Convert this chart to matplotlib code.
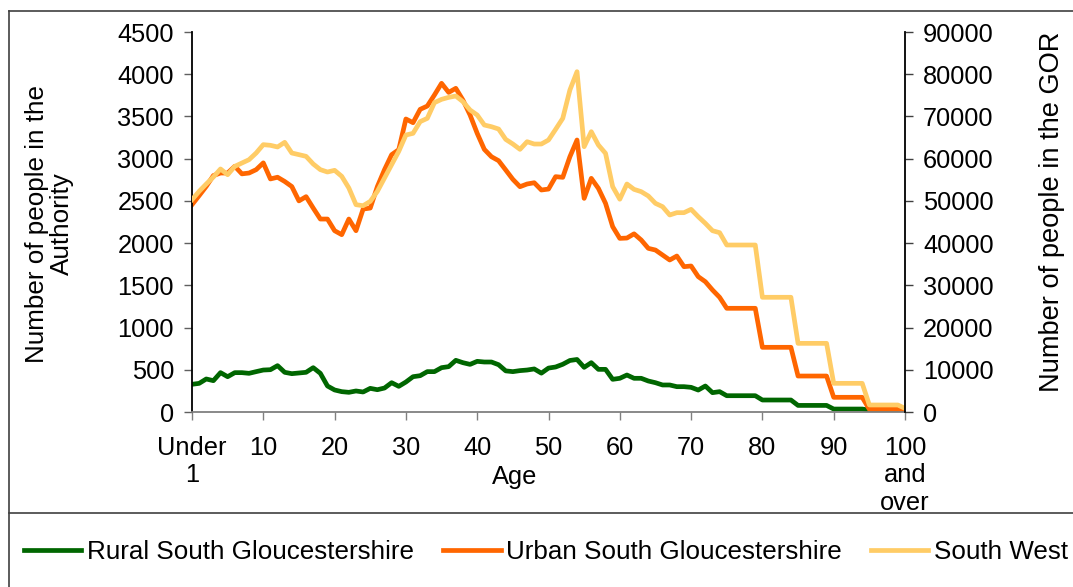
import matplotlib
matplotlib.use('Agg')
import matplotlib.pyplot as plt
from matplotlib.lines import Line2D

plt.rcParams['font.family'] = ['Liberation Sans', 'DejaVu Sans']

# single year of age, 0 = "Under 1", 100 = "100 and over"
ages = list(range(0, 101))

rural = [328, 339, 391, 371, 466, 418, 466, 466, 458, 478,
         497, 501, 549, 470, 454, 462, 470, 525, 458, 308,
         261, 241, 233, 249, 237, 280, 264, 284, 347, 304,
         355, 418, 430, 478, 478, 525, 537, 612, 584, 564,
         600, 592, 592, 560, 487, 478, 490, 497, 510, 460,
         520, 533, 565, 610, 622, 529, 584, 505, 505, 387,
         399, 438, 399, 399, 367, 347, 320, 320, 300, 300,
         292, 260, 308, 229, 241, 193, 193, 193, 193, 193,
         142, 142, 142, 142, 142, 78, 78, 78, 78, 78,
         35, 35, 35, 35, 35, 22, 22, 22, 22, 22,
         22]

urban = [2455, 2562, 2672, 2800, 2830, 2830, 2910, 2820, 2830, 2870,
         2950, 2760, 2780, 2730, 2670, 2500, 2550, 2415, 2285, 2285,
         2147, 2100, 2285, 2147, 2403, 2415, 2670, 2870, 3047, 3107,
         3470, 3426, 3584, 3623, 3754, 3892, 3785, 3833, 3694, 3517,
         3300, 3110, 3023, 2976, 2866, 2755, 2668, 2700, 2715, 2629,
         2640, 2787, 2779, 3023, 3221, 2530, 2767, 2648, 2471, 2195,
         2056, 2060, 2110, 2037, 1938, 1918, 1859, 1800, 1847, 1721,
         1729, 1603, 1543, 1445, 1358, 1228, 1228, 1228, 1228, 1228,
         766, 766, 766, 766, 766, 426, 426, 426, 426, 426,
         174, 174, 174, 174, 174, 32, 32, 32, 32, 32,
         24]

south_west = [50280, 52260, 54000, 55660, 57560, 56200, 58180, 58970, 59760, 61340,
              63320, 63160, 62770, 63870, 61340, 60950, 60550, 58740, 57400, 56840,
              57240, 55820, 53050, 49100, 48860, 49890, 52260, 55420, 58580, 61740,
              65600, 66000, 68770, 69550, 73260, 74050, 74520, 74840, 73500, 71520,
              70340, 67970, 67570, 67020, 64570, 63470, 62210, 64020, 63470, 63470,
              64420, 66950, 69550, 76260, 80600, 62840, 66390, 63230, 61260, 53370,
              50400, 54000, 52730, 52190, 51160, 49420, 48630, 46660, 47210, 47210,
              48000, 46260, 44680, 42940, 42470, 39550, 39550, 39550, 39550, 39550,
              27170, 27170, 27170, 27170, 27170, 16260, 16260, 16260, 16260, 16260,
              6790, 6790, 6790, 6790, 6790, 1660, 1660, 1660, 1660, 1660,
              860]

tick_ages = [0, 10, 20, 30, 40, 50, 60, 70, 80, 90, 100]
tick_labels = ['Under\n1', '10', '20', '30', '40', '50', '60', '70', '80', '90',
               '100\nand\nover']

series_names = ['Rural South Gloucestershire', 'Urban South Gloucestershire', 'South West']
colors = ['#006600', '#FF6600', '#FFCC66']

FS = 18.3
W, H = 1073, 587


def fx(px):
    return px / W


def fy(py):
    return 1 - py / H


def draw_frame(fig):
    # outer chart border (runs off the right and bottom edge) and legend divider
    kw = dict(transform=fig.transFigure, color='#404040', linewidth=1.2)
    fig.add_artist(Line2D([fx(9), fx(9)], [fy(11), -0.05], **kw))
    fig.add_artist(Line2D([fx(9), 1.05], [fy(11), fy(11)], **kw))
    fig.add_artist(Line2D([fx(9), 1.05], [fy(513), fy(513)], **kw))


def main():
    fig = plt.figure(figsize=(W / 100, H / 100), dpi=100)
    ax = fig.add_axes([fx(192), fy(412), fx(905) - fx(192), fy(32) - fy(412)])
    ax2 = ax.twinx()

    lw = 3.4
    l1, = ax.plot(ages, rural, color=colors[0], linewidth=lw, solid_joinstyle='round')
    l2, = ax.plot(ages, urban, color=colors[1], linewidth=lw, solid_joinstyle='round')
    l3, = ax2.plot(ages, south_west, color=colors[2], linewidth=lw, solid_joinstyle='round')

    ax.set_xlim(0, 100)
    ax.set_ylim(0, 4500)
    ax2.set_ylim(0, 90000)
    ax.set_yticks(range(0, 4501, 500))
    ax2.set_yticks(range(0, 90001, 10000))
    ax.set_xticks(tick_ages)
    ax.set_xticklabels(tick_labels, linespacing=1.2)

    for a in (ax, ax2):
        a.spines['top'].set_visible(False)
        a.patch.set_visible(False)
    ax.spines['right'].set_visible(False)
    ax2.spines['left'].set_visible(False)
    ax2.spines['bottom'].set_visible(False)
    ax.spines['left'].set_linewidth(1.3)
    ax2.spines['right'].set_linewidth(1.3)
    ax.spines['bottom'].set_color('#808080')
    ax.spines['bottom'].set_linewidth(1.3)

    ax.tick_params(axis='y', direction='out', length=6, width=1, color='#606060',
                   pad=7, labelsize=FS)
    ax2.tick_params(axis='y', direction='out', length=6, width=1, color='#404040',
                    pad=7, labelsize=FS)
    ax.tick_params(axis='x', direction='out', length=6, width=1, color='#808080',
                   pad=11, labelsize=FS)

    fig.text(fx(49), fy(224), 'Number of people in the\nAuthority', rotation=90,
             ha='center', va='center', multialignment='center', fontsize=18.7,
             linespacing=1.05)
    fig.text(fx(1052), fy(212), 'Number of people in the GOR', rotation=90,
             ha='center', va='center', fontsize=19.6)
    fig.text(fx(515), fy(477), 'Age', ha='center', va='center', fontsize=FS)

    fig.legend([l1, l2, l3], series_names, loc='center', ncol=3,
               bbox_to_anchor=(fx(546), fy(552)), frameon=False, fontsize=18.7,
               handlelength=2.2, handletextpad=0.2, columnspacing=1.15)

    draw_frame(fig)
    fig.savefig('out.png', dpi=100)


if __name__ == "__main__":
    main()
